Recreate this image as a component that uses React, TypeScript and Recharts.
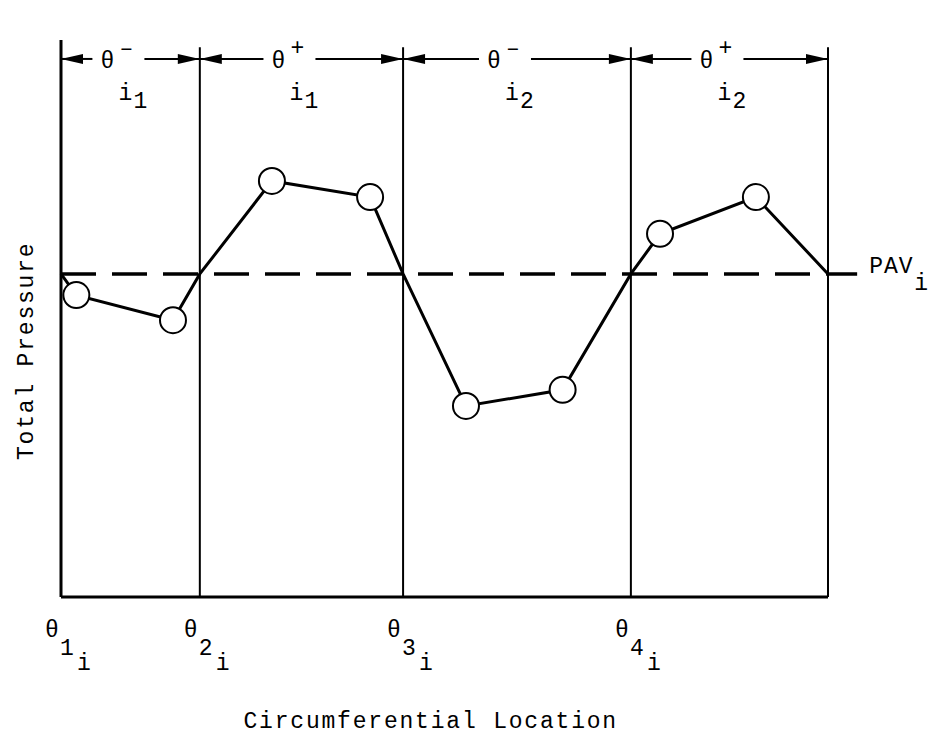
import React from 'react';
import {
  ComposedChart,
  Line,
  Scatter,
  XAxis,
  YAxis,
  ReferenceLine,
} from 'recharts';

// Circumferential positions of the PAV crossings (theta 1..4 and the end of the ring)
const boundaryX = [0, 18.1, 44.6, 74.3, 100];
const boundaryNames = ['1', '2', '3', '4'];
const pav = 58;

// measured probe readings
const probeX = [2.0, 14.6, 27.5, 40.3, 52.8, 65.4, 78.1, 90.6];
const probeP = [54.2, 49.7, 74.7, 71.8, 34.3, 37.2, 65.2, 71.8];

// regions between crossings
const regionSigns = ['–', '+', '–', '+'];
const regionSubs = ['1', '1', '2', '2'];

const arrowY = 96.6;
const lineTop = 98.7;
const pavEnd = 103.8;

const FONT = '"Liberation Mono", "DejaVu Sans Mono", monospace';

const probes = probeX.map((x, i) => ({ x, p: probeP[i] }));
const profile = [
  ...boundaryX.map((x) => ({ x, p: pav })),
  ...probes,
].sort((a, b) => a.x - b.x);

const txt = { fontFamily: FONT, fontSize: 23, fill: '#000' };

function BoundaryTick(props: any) {
  const { x, y, index } = props;
  return (
    <g>
      <text x={x - 16} y={y + 40} {...txt}>θ</text>
      <text x={x - 1} y={y + 58} {...txt}>{boundaryNames[index]}</text>
      <text x={x + 16} y={y + 73} {...txt}>i</text>
    </g>
  );
}

function regionShape(k: number) {
  return (p: any) => {
    const { x1, x2, y1 } = p;
    const y = y1;
    const c = (x1 + x2) / 2 - 12;
    return (
      <g>
        <line x1={x1} y1={y} x2={c - 26} y2={y} stroke="#000" strokeWidth={2} />
        <line x1={c + 26} y1={y} x2={x2} y2={y} stroke="#000" strokeWidth={2} />
        <polygon points={`${x1},${y} ${x1 + 22},${y - 5} ${x1 + 22},${y + 5}`} fill="#000" />
        <polygon points={`${x2},${y} ${x2 - 22},${y - 5} ${x2 - 22},${y + 5}`} fill="#000" />
        <text x={c - 18} y={y + 9} {...txt}>θ</text>
        <text x={c + 1} y={y - 4} {...txt}>{regionSigns[k]}</text>
        <text x={c} y={y + 41} {...txt}>i</text>
        <text x={c + 15} y={y + 49} {...txt}>{regionSubs[k]}</text>
      </g>
    );
  };
}

function pavShape(p: any) {
  const { x1, x2, y1 } = p;
  return (
    <g>
      <line x1={x1} y1={y1} x2={x2} y2={y1} stroke="#000" strokeWidth={3.5} strokeDasharray="35 16" />
      <text x={x2 + 12} y={y1 - 1} {...txt} letterSpacing={1}>PAV</text>
      <text x={x2 + 57} y={y1 + 16} {...txt}>i</text>
    </g>
  );
}

function ProbeDot(props: any) {
  const { cx, cy } = props;
  return <circle cx={cx} cy={cy} r={13} fill="#fff" stroke="#000" strokeWidth={2} />;
}

export default function App() {
  return (
    <div style={{ position: 'absolute', left: 0, top: 0, background: '#fff' }}>
      <ComposedChart
        width={941}
        height={740}
        data={profile}
        margin={{ top: 40, right: 113, bottom: 43, left: 61 }}
      >
        <XAxis
          type="number"
          dataKey="x"
          domain={[0, 100]}
          ticks={boundaryX.slice(0, 4)}
          tick={<BoundaryTick />}
          tickLine={false}
          tickSize={0}
          tickMargin={0}
          height={100}
          axisLine={{ stroke: '#000', strokeWidth: 3 }}
          label={{
            content: (lp: any) => {
              const vb = lp.viewBox;
              return (
                <text x={vb.x + vb.width / 2 - 201} y={vb.y + 131} {...txt} letterSpacing={1.8}>
                  Circumferential Location
                </text>
              );
            },
          }}
        />
        <YAxis type="number" domain={[0, 100]} hide />
        <ReferenceLine
          x={0}
          stroke="#000"
          strokeWidth={3}
          ifOverflow="visible"
          label={{
            content: (lp: any) => {
              const vb = lp.viewBox;
              return (
                <text
                  transform={`translate(${vb.x - 28},${vb.y + 420}) rotate(-90)`}
                  {...txt}
                  letterSpacing={1.8}
                >
                  Total Pressure
                </text>
              );
            },
          }}
        />
        {boundaryX.slice(1).map((b) => (
          <ReferenceLine
            key={`b-${b}`}
            segment={[{ x: b, y: 0 }, { x: b, y: lineTop }]}
            stroke="#000"
            strokeWidth={2}
            ifOverflow="visible"
          />
        ))}
        {boundaryX.slice(0, 4).map((b, k) => (
          <ReferenceLine
            key={`r-${k}`}
            segment={[{ x: b, y: arrowY }, { x: boundaryX[k + 1], y: arrowY }]}
            ifOverflow="visible"
            shape={regionShape(k)}
          />
        ))}
        <ReferenceLine
          segment={[{ x: 0, y: pav }, { x: pavEnd, y: pav }]}
          ifOverflow="visible"
          shape={pavShape}
        />
        <Line
          data={profile}
          dataKey="p"
          type="linear"
          stroke="#000"
          strokeWidth={3}
          dot={false}
          isAnimationActive={false}
        />
        <Scatter data={probes} dataKey="p" shape={<ProbeDot />} isAnimationActive={false} />
      </ComposedChart>
    </div>
  );
}
